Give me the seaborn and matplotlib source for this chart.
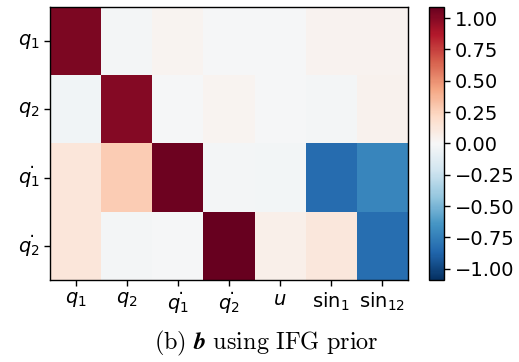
import numpy as np
import pandas as pd
import matplotlib
matplotlib.use("Agg")
import matplotlib.pyplot as plt
import seaborn as sns

row_labels = [r'$q_1$', r'$q_2$', r'$\dot{q_1}$', r'$\dot{q_2}$']
col_labels = [r'$q_1$', r'$q_2$', r'$\dot{q_1}$', r'$\dot{q_2}$', r'$u$', r'$\mathrm{sin}_1$', r'$\mathrm{sin}_{12}$']

row_q1 = [1.03, -0.02, 0.03, -0.01, -0.01, 0.04, 0.04]
row_q2 = [-0.04, 1.00, -0.01, 0.03, -0.01, -0.02, 0.05]
row_dq1 = [0.13, 0.28, 1.07, -0.02, -0.03, -0.84, -0.72]
row_dq2 = [0.13, -0.02, -0.01, 1.09, 0.06, 0.12, -0.83]

vlim = 1.09
caption = r'$\mathrm{(b)}\ \mathbfit{b}\ \mathrm{using\ IFG\ prior}$'

data = pd.DataFrame([row_q1, row_q2, row_dq1, row_dq2], index=row_labels, columns=col_labels)

fig = plt.figure(figsize=(5.19, 3.62), dpi=100)
ax = fig.add_axes([0.0963, 0.2265, 0.6897, 0.7545])
cax = fig.add_axes([0.8266, 0.2265, 0.029, 0.7545])

sns.heatmap(data, ax=ax, cbar_ax=cax, cmap='RdBu_r', vmin=-vlim, vmax=vlim,
            cbar=True, xticklabels=col_labels, yticklabels=row_labels)

for s in ax.spines.values():
    s.set_visible(True)
    s.set_linewidth(1.0)
    s.set_color('black')

ax.tick_params(axis='both', labelsize=14, length=4, width=1, color='black')
ax.set_yticklabels(row_labels, rotation=0)
ax.set_xticklabels(col_labels, rotation=0)
ax.set_xlabel('')
ax.set_ylabel('')

cb = ax.collections[0].colorbar
cb.outline.set_visible(True)
cb.outline.set_linewidth(1.0)
cb.outline.set_edgecolor('black')
cb.set_ticks([1.0, 0.75, 0.5, 0.25, 0.0, -0.25, -0.5, -0.75, -1.0])
cb.ax.set_yticklabels(['1.00', '0.75', '0.50', '0.25', '0.00', '\u22120.25', '\u22120.50', '\u22120.75', '\u22121.00'])
cb.ax.tick_params(labelsize=14, length=4, width=1)

fig.text(0.513, 0.012, caption, ha='center', va='bottom', fontsize=17.5,
         math_fontfamily='cm')

fig.savefig('out.png', dpi=100)
